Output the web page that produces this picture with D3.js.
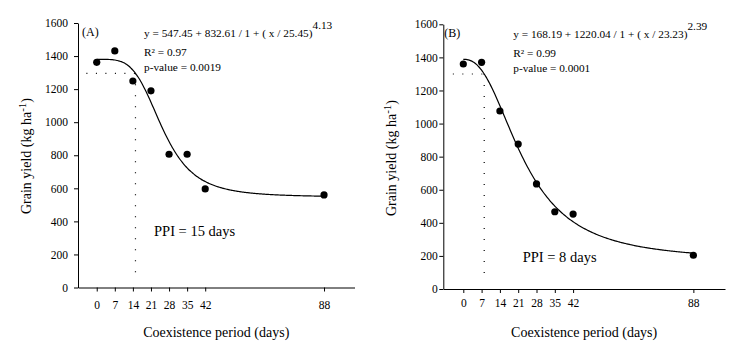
<!DOCTYPE html>
<html>
<head>
<meta charset="utf-8">
<script src="https://cdn.jsdelivr.net/npm/d3@7"></script>
<style>
	body { margin: 0; background: #fff; }
	svg { font-family: "Liberation Serif", "Times New Roman", serif; }
	.axis path, .axis line { stroke: #000; stroke-width: 1; }
	.axis text { font-family: "Liberation Serif", serif; fill: #000; }
</style>
</head>
<body>
<div id="chart"></div>
<script>
// Coexistence period (days), shared by both panels
const days = [0, 7, 14, 21, 28, 35, 42, 88];
const xTicks = [0, 7, 14, 21, 28, 35, 42, 88];
const yTicks = [0, 200, 400, 600, 800, 1000, 1200, 1400, 1600];

// Grain yield (kg ha-1)
const yieldA = [1362, 1431, 1249, 1190, 806, 806, 596, 560];
const yieldB = [1360, 1370, 1076, 876, 635, 467, 453, 204];

// Fitted log-logistic params: a + b / (1 + (x / c)^d)
const fitA = [547.45, 832.61, 25.45, 4.13];
const fitB = [168.19, 1220.04, 23.23, 2.39];

const statsA = ['0.97', '0.0019'];
const statsB = ['0.99', '0.0001'];

const ppiA = 15;
const ppiB = 8;

const width = 745;
const height = 352;

const svg = d3.select('#chart')
	.append('svg')
	.attr('width', width)
	.attr('height', height);

// Build one panel
const drawPanel = (opt) => {
	const g = svg.append('g').attr('class', 'panel');

	const xScale = d3.scaleLinear()
		.domain(opt.xDomain)
		.range([opt.left, opt.right]);

	const yScale = d3.scaleLinear()
		.domain([0, 1600])
		.range([opt.bottom, opt.top]);

	const fit = (x) => opt.fit[0] + opt.fit[1] / (1 + Math.pow(x / opt.fit[2], opt.fit[3]));

	// Axes
	g.append('g')
		.attr('class', 'axis')
		.attr('font-family', '"Liberation Serif", serif')
		.attr('transform', `translate(0, ${opt.bottom})`)
		.call(d3.axisBottom(xScale).tickValues(xTicks).tickFormat(d3.format('d'))
			.tickSize(4).tickSizeOuter(0).tickPadding(opt.xPad))
		.selectAll('text').style('font-size', '11.5px');

	g.append('g')
		.attr('class', 'axis')
		.attr('font-family', '"Liberation Serif", serif')
		.attr('transform', `translate(${opt.left}, 0)`)
		.call(d3.axisLeft(yScale).tickValues(yTicks).tickFormat(d3.format('d'))
			.tickSize(4).tickSizeOuter(0).tickPadding(opt.yPad))
		.selectAll('text').style('font-size', '11.5px');

	// Dotted guides at PPI
	const yPPI = fit(opt.ppi);
	g.append('line')
		.attr('x1', xScale(-4)).attr('x2', xScale(opt.ppi))
		.attr('y1', yScale(yPPI)).attr('y2', yScale(yPPI))
		.attr('stroke', '#000')
		.attr('stroke-width', 1.2)
		.attr('stroke-dasharray', '1,8.5');

	g.append('line')
		.attr('x1', xScale(opt.ppi)).attr('x2', xScale(opt.ppi))
		.attr('y1', yScale(yPPI)).attr('y2', yScale(40))
		.attr('stroke', '#000')
		.attr('stroke-width', 1.2)
		.attr('stroke-dasharray', '1,10');

	// Fitted curve
	const curvePts = d3.range(0, 88.01, 0.5);
	const line = d3.line()
		.x(d => xScale(d))
		.y(d => yScale(fit(d)))
		.curve(d3.curveMonotoneX);

	g.append('path')
		.datum(curvePts)
		.attr('d', line)
		.attr('fill', 'none')
		.attr('stroke', '#000')
		.attr('stroke-width', 1.2);

	// Points
	g.selectAll('circle')
		.data(days.map((d, i) => [d, opt.values[i]]))
		.enter()
		.append('circle')
		.attr('cx', d => xScale(d[0]))
		.attr('cy', d => yScale(d[1]))
		.attr('r', 3.6)
		.attr('fill', '#000');

	// Panel label
	g.append('text')
		.attr('x', opt.left + opt.labelDx)
		.attr('y', opt.top + 13)
		.style('font-size', '12px')
		.text(opt.label);

	// Equation
	const eq = g.append('text')
		.attr('x', opt.eqX)
		.attr('y', opt.top + 14)
		.style('font-size', '11.3px');
	eq.append('tspan').text(`y = ${opt.fit[0].toFixed(2)} + ${opt.fit[1].toFixed(2)} / 1 + ( x / ${opt.fit[2].toFixed(2)})`);
	eq.append('tspan').attr('dy', -8).text(opt.fit[3].toFixed(2));

	g.append('text')
		.attr('x', opt.eqX)
		.attr('y', opt.top + 33)
		.style('font-size', '11.3px')
		.text(`R\u00B2 = ${opt.stats[0]}`);

	g.append('text')
		.attr('x', opt.eqX)
		.attr('y', opt.top + 48)
		.style('font-size', '11.3px')
		.text(`p-value = ${opt.stats[1]}`);

	// PPI label
	g.append('text')
		.attr('x', opt.ppiX)
		.attr('y', opt.ppiY)
		.style('font-size', '14.5px')
		.text(`PPI = ${opt.ppi} days`);

	// Axis titles
	g.append('text')
		.attr('x', (opt.left + opt.right) / 2)
		.attr('y', 337)
		.attr('text-anchor', 'middle')
		.style('font-size', '14px')
		.text('Coexistence period (days)');

	const yt = g.append('text')
		.attr('transform', `translate(${opt.yTitleX}, ${opt.yTitleY}) rotate(-90)`)
		.attr('text-anchor', 'middle')
		.style('font-size', '14px');
	yt.append('tspan').text('Grain yield (kg ha');
	yt.append('tspan').attr('dy', -5).style('font-size', '11px').text('-1');
	yt.append('tspan').attr('dy', 5).text(')');
};

drawPanel({
	label: '(A)', labelDx: 4,
	values: yieldA, fit: fitA, stats: statsA, ppi: ppiA,
	left: 78, right: 354.5, top: 23, bottom: 287.5,
	xDomain: [-7.25, 99.8],
	xPad: 9, yPad: 6,
	eqX: 144, ppiX: 154, ppiY: 235.5,
	yTitleX: 31, yTitleY: 156
});

drawPanel({
	label: '(B)', labelDx: 1,
	values: yieldB, fit: fitB, stats: statsB, ppi: ppiB,
	left: 443.3, right: 725, top: 24.3, bottom: 289,
	xDomain: [-7.65, 100.1],
	xPad: 6, yPad: 1.5,
	eqX: 513.3, ppiX: 522.7, ppiY: 262,
	yTitleX: 396, yTitleY: 158
});
</script>
</body>
</html>
